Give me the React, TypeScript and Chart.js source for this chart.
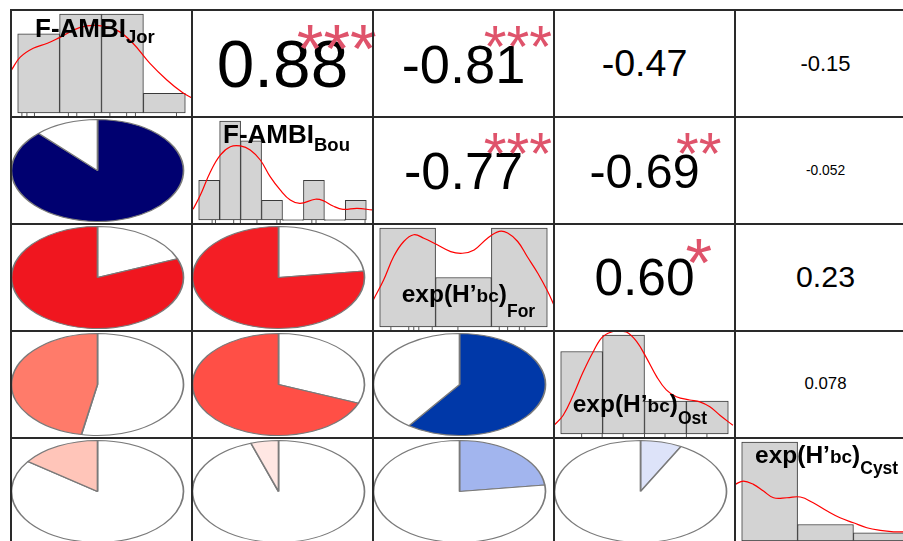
import React, { useEffect, useRef } from "react";
import { Chart, registerables } from "chart.js";

Chart.register(...registerables);

// ---------------- data ----------------
const varNames = ["Jor", "Bou", "For", "Ost", "Cyst"];
const varIndexNames = ["F-AMBI", "F-AMBI", "exp(H’bc)", "exp(H’bc)", "exp(H’bc)"];

// upper-triangle pairs (row, col); the lower triangle mirrors them
const corrRows = [0, 0, 0, 0, 1, 1, 1, 2, 2, 3];
const corrCols = [1, 2, 3, 4, 2, 3, 4, 3, 4, 4];
const corrValues = [0.88, -0.81, -0.47, -0.15, -0.77, -0.69, -0.052, 0.6, 0.23, 0.078];
const corrLabels = ["0.88", "-0.81", "-0.47", "-0.15", "-0.77", "-0.69", "-0.052", "0.60", "0.23", "0.078"];
const corrStars = ["***", "***", "", "", "***", "**", "", "*", "", ""];

// histograms (x in bin units, first break = 0)
const jorCounts = [4, 5, 5, 1];
const bouCounts = [2, 5, 4, 1, 0, 2, 0, 1];
const forCounts = [6, 3, 6];
const ostCounts = [5, 6, 2, 2];
const cystCounts = [12, 2, 1];

// density curves
const jorDensX = [-0.15, 0.06, 0.37, 0.71, 1.01, 1.49, 1.89, 2.37, 2.75, 3.15, 3.56, 3.94, 4.15];
const jorDensY = [2.17, 2.82, 3.27, 3.52, 3.82, 4.32, 4.42, 4.17, 3.52, 2.52, 1.67, 1.02, 0.77];
const bouDensX = [-0.27, 0.08, 0.56, 1.03, 1.51, 1.99, 2.46, 2.94, 3.41, 3.89, 4.37, 4.84, 5.56, 5.94, 6.41, 6.89, 7.56, 8.28];
const bouDensY = [0.54, 1.26, 2.44, 3.28, 3.7, 3.74, 3.54, 3.03, 2.19, 1.52, 1.01, 0.84, 1.05, 0.98, 0.71, 0.54, 0.59, 0.51];
const forDensX = [-0.11, 0.07, 0.25, 0.43, 0.61, 0.79, 1.03, 1.27, 1.48, 1.69, 1.93, 2.14, 2.29, 2.47, 2.64, 2.83, 3.01, 3.12];
const forDensY = [1.67, 2.85, 4.27, 5.18, 5.59, 5.38, 4.98, 4.57, 4.47, 4.67, 5.38, 5.79, 5.69, 5.18, 4.27, 3.26, 2.14, 1.32];
const ostDensX = [-0.16, 0.06, 0.3, 0.54, 0.78, 1.01, 1.33, 1.57, 1.81, 2.05, 2.29, 2.52, 2.76, 3.08, 3.32, 3.56, 3.8, 4.11];
const ostDensY = [0.53, 1.14, 2.36, 3.78, 5.0, 5.91, 6.26, 6.18, 5.61, 4.6, 3.48, 2.67, 2.26, 2.06, 1.95, 1.65, 1.14, 0.53];
const cystDensX = [-0.12, 0.03, 0.21, 0.39, 0.57, 0.81, 1.05, 1.28, 1.53, 1.76, 2.0, 2.24, 2.48, 2.72, 2.89, 3.12];
const cystDensY = [6.86, 7.26, 6.86, 6.05, 5.24, 5.24, 5.33, 4.63, 3.63, 2.82, 2.21, 1.61, 1.29, 1.12, 1.12, 1.1];

// rug marks
const jorRug = [0.1, 0.22, 0.4, 1.21, 1.41, 1.83, 2.2, 2.6, 2.81, 3.79];
const bouRug = [0.64, 0.8, 1.67, 1.99, 2.78, 3.73, 3.89, 5.4, 5.6, 7.94];
const forRug = [0.2, 0.52, 0.61, 0.7, 0.94, 1.4, 2.14, 2.29, 2.5, 2.6];
const ostRug = [0.5, 0.99, 1.49, 2.0, 2.49, 3.0, 3.49];
const cystRug: number[] = [];

// ---------------- layout / style ----------------
const FONT = '"Liberation Sans", Arial, Helvetica, sans-serif';
const GRID_X0 = 11;
const GRID_Y0 = 10;
const CELL_W = 181;
const CELL_H = 106.9;
const N = 5;
const PIE_RX = 86;
const PIE_RY = 51;
const STAR_COLOR = "#DF536B";
const STAR_SCALE = 0.92;
const STAR_DROP = 2;
const pieColors = ["#000070", "#F0161F", "#FF7B6A", "#FFC5B9", "#F41E25", "#FF4F46", "#FFE7E3", "#0038A8", "#A2B5EE", "#DDE3F9"];

const labelLayout = [
  { left: 24, baseline: 26.7, main: 26, small: 19, sub: 18.5, subDy: 6.6 },
  { left: 31, baseline: 26.3, main: 26, small: 19, sub: 18.5, subDy: 7.4 },
  { left: 28.7, baseline: 78.7, main: 24.5, small: 19, sub: 17.5, subDy: 15 },
  { left: 18.7, baseline: 82.3, main: 24.5, small: 19, sub: 17.5, subDy: 11.7 },
  { left: 20, baseline: 25.7, main: 24.5, small: 19, sub: 17.5, subDy: 11.7 },
];

const hists = [
  { counts: jorCounts, dx: jorDensX, dy: jorDensY, rug: jorRug },
  { counts: bouCounts, dx: bouDensX, dy: bouDensY, rug: bouRug },
  { counts: forCounts, dx: forDensX, dy: forDensY, rug: forRug },
  { counts: ostCounts, dx: ostDensX, dy: ostDensY, rug: ostRug },
  { counts: cystCounts, dx: cystDensX, dy: cystDensY, rug: cystRug },
];

const cellX = (c: number) => GRID_X0 + c * CELL_W;
const cellY = (r: number) => GRID_Y0 + r * CELL_H;

let measureCtx: CanvasRenderingContext2D | null = null;
function emWidth(txt: string): number {
  if (!measureCtx) measureCtx = document.createElement("canvas").getContext("2d");
  measureCtx!.font = `100px ${FONT}`;
  return measureCtx!.measureText(txt).width / 100;
}

// ---------------- components ----------------
function HistCell({ i }: { i: number }) {
  const ref = useRef<HTMLCanvasElement>(null);
  useEffect(() => {
    const h = hists[i];
    const n = h.counts.length;
    const ymax = Math.max(...h.counts);
    const bars = h.counts.map((v, k) => ({ x: k + 0.5, y: v }));
    const dens = h.dx.map((x, k) => ({ x, y: h.dy[k] }));
    const rug = h.rug.map((x) => ({ x, y: -0.04 * ymax }));
    const chart = new Chart(ref.current!, {
      type: "bar",
      data: {
        datasets: [
          {
            type: "line",
            data: dens,
            borderColor: "#FF0000",
            borderWidth: 1.2,
            pointRadius: 0,
            tension: 0.4,
            fill: false,
            order: 1,
          } as any,
          {
            type: "scatter",
            data: rug,
            pointStyle: "line",
            rotation: 90,
            radius: 4,
            borderColor: "#555",
            borderWidth: 1,
            order: 2,
          } as any,
          {
            type: "bar",
            data: bars,
            backgroundColor: "#D3D3D3",
            borderColor: "#3a3a3a",
            borderWidth: 1,
            borderSkipped: false,
            barPercentage: 1,
            categoryPercentage: 1,
            minBarLength: 1,
            order: 3,
          } as any,
        ],
      },
      options: {
        animation: false,
        responsive: false,
        events: [],
        layout: { padding: 0, autoPadding: false },
        plugins: { legend: { display: false }, tooltip: { enabled: false } },
        scales: {
          x: { type: "linear", display: false, offset: false, min: -0.04 * n, max: n * 1.04 },
          y: { type: "linear", display: false, min: -0.04 * ymax, max: ymax * 1.04 },
        },
      } as any,
    });
    return () => chart.destroy();
  }, [i]);
  return (
    <canvas
      ref={ref}
      width={181}
      height={107}
      style={{ position: "absolute", left: Math.round(cellX(i)), top: Math.round(cellY(i)), width: 181, height: 107 }}
    />
  );
}

const stretchPlugin = {
  id: "ellipseStretch",
  beforeDatasetsDraw(chart: any) {
    const { ctx, chartArea: a } = chart;
    const cx = (a.left + a.right) / 2;
    const cy = (a.top + a.bottom) / 2;
    ctx.save();
    ctx.translate(cx, cy);
    ctx.scale(PIE_RX / PIE_RY, 1);
    ctx.translate(-cx, -cy);
  },
  afterDatasetsDraw(chart: any) {
    chart.ctx.restore();
  },
};

function PieCell({ k }: { k: number }) {
  const ref = useRef<HTMLCanvasElement>(null);
  const r = corrCols[k]; // lower triangle row
  const c = corrRows[k]; // lower triangle col
  useEffect(() => {
    const v = corrValues[k];
    const a = Math.abs(v);
    const data = v >= 0 ? [a, 1 - a] : [1 - a, a];
    const colors = v >= 0 ? [pieColors[k], "#FFFFFF"] : ["#FFFFFF", pieColors[k]];
    const chart = new Chart(ref.current!, {
      type: "pie",
      data: {
        labels: ["a", "b"],
        datasets: [{ data, backgroundColor: colors, borderColor: "#7a7a7a", borderWidth: 1, clip: false } as any],
      },
      options: {
        animation: false,
        responsive: false,
        events: [],
        layout: { padding: { left: 0, right: 8, top: 2, bottom: 2 }, autoPadding: false },
        plugins: { legend: { display: false }, tooltip: { enabled: false } },
      } as any,
      plugins: [stretchPlugin],
    });
    return () => chart.destroy();
  }, [k]);
  return (
    <canvas
      ref={ref}
      width={181}
      height={107}
      style={{ position: "absolute", left: Math.round(cellX(c)), top: Math.round(cellY(r)), width: 181, height: 107 }}
    />
  );
}

function CorrText({ k }: { k: number }) {
  const r = corrRows[k];
  const c = corrCols[k];
  const txt = corrLabels[k];
  const base = (0.8 * CELL_W) / emWidth(txt);
  const fNum = (base * (Math.abs(corrValues[k]) + 0.3)) / 1.3;
  const fStar = base * STAR_SCALE;
  const cx = cellX(c) + CELL_W / 2;
  const cy = cellY(r) + CELL_H / 2;
  const numBase = cy + 0.358 * fNum;
  const sx = cellX(c) + 0.8 * CELL_W;
  const sy = cellY(r) + 0.2 * CELL_H + STAR_DROP;
  const starBase = sy + 0.585 * fStar;
  const common: React.CSSProperties = {
    position: "absolute",
    whiteSpace: "nowrap",
    fontFamily: FONT,
    lineHeight: 1,
    transform: "translateX(-50%)",
  };
  return (
    <>
      <span style={{ ...common, left: cx, top: numBase - 0.8465 * fNum, fontSize: fNum, color: "#000" }}>{txt}</span>
      {corrStars[k] && (
        <span style={{ ...common, left: sx, top: starBase - 0.8465 * fStar, fontSize: fStar, color: STAR_COLOR }}>
          {corrStars[k]}
        </span>
      )}
    </>
  );
}

function DiagLabel({ i }: { i: number }) {
  const L = labelLayout[i];
  const name = varIndexNames[i];
  const parts: { t: string; size: number; dy: number }[] = [];
  const bcAt = name.indexOf("bc");
  if (bcAt >= 0) {
    parts.push({ t: name.slice(0, bcAt), size: L.main, dy: 0 });
    parts.push({ t: "bc", size: L.small, dy: 0 });
    parts.push({ t: name.slice(bcAt + 2), size: L.main, dy: 0 });
  } else {
    parts.push({ t: name, size: L.main, dy: 0 });
  }
  parts.push({ t: varNames[i], size: L.sub, dy: L.subDy });
  return (
    <div
      style={{
        position: "absolute",
        left: cellX(i) + L.left,
        top: cellY(i) + L.baseline - 0.8465 * L.main,
        display: "flex",
        alignItems: "baseline",
        fontFamily: FONT,
        fontWeight: "bold",
        whiteSpace: "nowrap",
        color: "#000",
      }}
    >
      {parts.map((p, j) => (
        <span key={j} style={{ fontSize: p.size, lineHeight: 1, position: "relative", top: p.dy }}>
          {p.t}
        </span>
      ))}
    </div>
  );
}

export default function App() {
  const lines: React.ReactNode[] = [];
  for (let c = 0; c <= N; c++) {
    lines.push(
      <div key={"v" + c} style={{ position: "absolute", left: cellX(c) - 1, top: GRID_Y0 - 1, width: 2, height: N * CELL_H + 2, background: "#2a2a2a" }} />
    );
  }
  for (let r = 0; r <= N; r++) {
    lines.push(
      <div key={"h" + r} style={{ position: "absolute", left: GRID_X0 - 1, top: cellY(r) - 1, width: N * CELL_W + 2, height: 2, background: "#2a2a2a" }} />
    );
  }
  return (
    <div style={{ position: "absolute", left: 0, top: 0, width: 903, height: 541, overflow: "hidden", background: "#fff" }}>
      {hists.map((_, i) => (
        <HistCell key={"h" + i} i={i} />
      ))}
      {corrValues.map((_, k) => (
        <PieCell key={"p" + k} k={k} />
      ))}
      {corrValues.map((_, k) => (
        <CorrText key={"t" + k} k={k} />
      ))}
      {hists.map((_, i) => (
        <DiagLabel key={"l" + i} i={i} />
      ))}
      {lines}
    </div>
  );
}
